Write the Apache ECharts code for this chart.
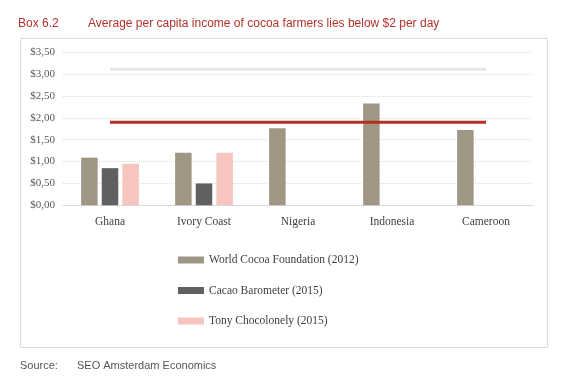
<!DOCTYPE html>
<html>
<head>
<meta charset="utf-8">
<script src="https://cdn.jsdelivr.net/npm/echarts@6/dist/echarts.min.js"></script>
<style>
  html, body { margin: 0; padding: 0; background: #fff; }
  #chart { width: 567px; height: 376px; }
</style>
</head>
<body>
<div id="chart"></div>
<script>
// data
var countries = ['Ghana', 'Ivory Coast', 'Nigeria', 'Indonesia', 'Cameroon'];
var worldCocoa = [1.09, 1.20, 1.76, 2.33, 1.72];
var cacaoBarometer = [0.85, 0.50, null, null, null];
var tonyChocolonely = [0.95, 1.20, null, null, null];
var povertyLine = [1.90, 1.90, 1.90, 1.90, 1.90];
var upperLine = [3.11, 3.11, 3.11, 3.11, 3.11];

var serif = '"Liberation Serif", "DejaVu Serif", serif';
var sans = '"Liberation Sans", Arial, sans-serif';

var myChart = echarts.init(document.getElementById('chart'));

var option = {
    backgroundColor: '#fff',
    animation: false,
    graphic: [
        { type: 'rect', shape: { x: 20.5, y: 38.5, width: 527, height: 309 },
          style: { fill: 'none', stroke: '#dcdcdc', lineWidth: 1 } },
        { type: 'text', left: 18, top: 18,
          style: { text: 'Box 6.2', fill: '#b5312b', font: '12px ' + sans } },
        { type: 'text', left: 88, top: 18,
          style: { text: 'Average per capita income of cocoa farmers lies below $2 per day', fill: '#b5312b', font: '12px ' + sans } },
        { type: 'text', left: 20, top: 360,
          style: { text: 'Source:', fill: '#555', font: '11px ' + sans } },
        { type: 'text', left: 77, top: 360,
          style: { text: 'SEO Amsterdam Economics', fill: '#555', font: '11px ' + sans } }
    ],
    grid: { left: 63, right: 34, top: 52.3, height: 153, containLabel: false },
    legend: {
        orient: 'vertical',
        left: 178,
        top: 254,
        padding: 0,
        itemWidth: 26,
        itemHeight: 7,
        itemGap: 18.5,
        icon: 'rect',
        data: ['World Cocoa Foundation (2012)', 'Cacao Barometer (2015)', 'Tony Chocolonely (2015)'],
        textStyle: { color: '#404040', fontFamily: serif, fontSize: 11.5 }
    },
    xAxis: {
        type: 'category',
        data: countries,
        axisLine: { show: true, lineStyle: { color: '#d9d9d9' } },
        axisTick: { show: false },
        axisLabel: { color: '#404040', fontFamily: serif, fontSize: 11.5, margin: 11 }
    },
    yAxis: {
        type: 'value',
        min: 0,
        max: 3.5,
        interval: 0.5,
        axisLine: { show: false },
        axisTick: { show: false },
        splitLine: { lineStyle: { color: '#dedede', type: 'dotted', width: 1 } },
        axisLabel: {
            color: '#595959', fontFamily: serif, fontSize: 11, margin: 8,
            formatter: function (v) { return '$' + v.toFixed(2).replace('.', ','); }
        }
    },
    series: [
        { name: 'World Cocoa Foundation (2012)', type: 'bar', data: worldCocoa,
          barWidth: 16.5, barGap: '25%', itemStyle: { color: '#a09684' } },
        { name: 'Cacao Barometer (2015)', type: 'bar', data: cacaoBarometer,
          barWidth: 16.5, barGap: '25%', itemStyle: { color: '#606060' } },
        { name: 'Tony Chocolonely (2015)', type: 'bar', data: tonyChocolonely,
          barWidth: 16.5, barGap: '25%', itemStyle: { color: '#f6c5c0' } },
        { name: 'upper', type: 'line', data: upperLine, symbol: 'none', z: 1,
          lineStyle: { color: '#e6e6e6', width: 3 } },
        { name: 'poverty', type: 'line', data: povertyLine, symbol: 'none', z: 5,
          lineStyle: { color: '#b3321f', width: 3 } }
    ]
};

myChart.setOption(option);
</script>
</body>
</html>
